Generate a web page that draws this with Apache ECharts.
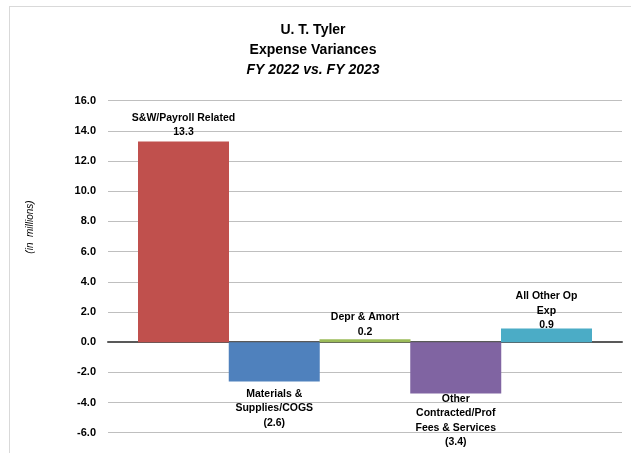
<!DOCTYPE html>
<html>
<head>
<meta charset="utf-8">
<script src="https://cdn.jsdelivr.net/npm/echarts@6/dist/echarts.min.js"></script>
<style>
html,body{margin:0;padding:0;background:#fff;}
#chart{width:631px;height:453px;}
</style>
</head>
<body>
<div id="chart"></div>
<script>
var categories = ["S&W/Payroll Related", "Materials &\nSupplies/COGS", "Depr & Amort", "Other\nContracted/Prof\nFees & Services", "All Other Op\nExp"];
var values = [13.3, -2.6, 0.2, -3.4, 0.9];
var barColors = ["#C0504D", "#4F81BD", "#9BBB59", "#8064A2", "#4BACC6"];
var yTicks = [-6, -4, -2, 0, 2, 4, 6, 8, 10, 12, 14, 16];

var fontFam = "'Liberation Sans', Arial, sans-serif";
function fmt(v) { return v < 0 ? '(' + Math.abs(v).toFixed(1) + ')' : v.toFixed(1); }
var labelGaps = [2, 5, 0, -2, -4];

var chart = echarts.init(document.getElementById('chart'), null, {renderer: 'canvas'});
var seriesData = values.map(function (v, i) {
  return {
    value: [i, v],
    itemStyle: { color: barColors[i] },
    label: {
      show: true,
      position: v < 0 ? 'bottom' : 'top',
      distance: labelGaps[i],
      formatter: categories[i] + '\n' + fmt(v)
    }
  };
});

chart.setOption({
  animation: false,
  backgroundColor: '#ffffff',
  title: {
    text: 'U. T. Tyler\nExpense Variances\n{i|FY 2022 vs. FY 2023}',
    left: 308,
    top: 15,
    textAlign: 'center',
    textStyle: {
      fontFamily: fontFam, fontSize: 14, fontWeight: 'bold', color: '#000', lineHeight: 20,
      rich: { i: { fontFamily: fontFam, fontSize: 14, fontWeight: 'bold', fontStyle: 'italic', color: '#000', lineHeight: 20 } }
    }
  },
  grid: { left: 108, right: 9, top: 100.7, bottom: 20.3, containLabel: false },
  xAxis: {
    type: 'value', min: -0.832, max: 4.832,
    axisLine: { show: true, onZero: true, lineStyle: { color: '#595959', width: 2 } },
    axisTick: { show: false }, axisLabel: { show: false }, splitLine: { show: false }
  },
  yAxis: {
    type: 'value', min: yTicks[0], max: yTicks[yTicks.length - 1], interval: 2,
    axisLine: { show: false }, axisTick: { show: false },
    axisLabel: { formatter: function (v) { return v.toFixed(1); }, margin: 12,
      fontFamily: fontFam, fontSize: 11, fontWeight: 'bold', color: '#000' },
    splitLine: { show: true, lineStyle: { color: '#BFBFBF', width: 1 } }
  },
  graphic: [
    { type: 'line', shape: { x1: 9, y1: 6.5, x2: 631, y2: 6.5 }, style: { stroke: '#D9D9D9', lineWidth: 1 } },
    { type: 'line', shape: { x1: 9.5, y1: 6, x2: 9.5, y2: 453 }, style: { stroke: '#D9D9D9', lineWidth: 1 } },
    { type: 'text', x: 30, y: 227, rotation: Math.PI / 2,
      style: { text: '(in  millions)', font: 'italic 10px ' + fontFam, fill: '#000', textAlign: 'center', textVerticalAlign: 'middle' } }
  ],
  series: [{
    type: 'bar',
    barWidth: 91,
    data: seriesData,
    label: { fontFamily: fontFam, fontSize: 10.5, fontWeight: 'bold', color: '#000', lineHeight: 14.5 }
  }]
});
</script>
</body>
</html>
